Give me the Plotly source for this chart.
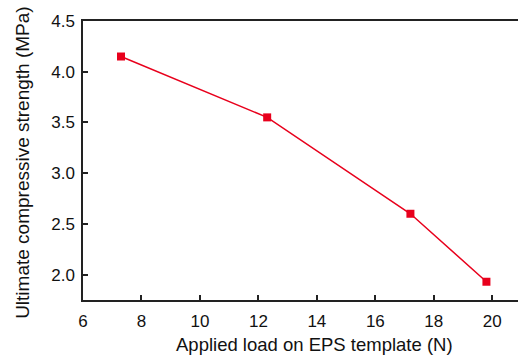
import plotly.graph_objects as go

load_n = [7.3, 12.3, 17.2, 19.8]
strength_mpa = [4.15, 3.55, 2.60, 1.93]

x_ticks = [6, 8, 10, 12, 14, 16, 18, 20]
y_ticks = [2.0, 2.5, 3.0, 3.5, 4.0, 4.5]
y_tick_labels = ["2.0", "2.5", "3.0", "3.5", "4.0", "4.5"]

x_title = "Applied load on EPS template (N)"
y_title = "Ultimate compressive strength (MPa)"

red = "#e8001c"
font_family = "Liberation Sans, Arial, sans-serif"

fig = go.Figure(
    go.Scatter(
        x=load_n,
        y=strength_mpa,
        mode="lines+markers",
        line=dict(color=red, width=1.5),
        marker=dict(symbol="square", size=8, color=red),
        showlegend=False,
    )
)

fig.update_layout(
    width=518,
    height=356,
    margin=dict(l=83, r=0, t=21, b=56),
    paper_bgcolor="white",
    plot_bgcolor="white",
    font=dict(family=font_family, color="#111111"),
    annotations=[
        dict(text=x_title, xref="paper", yref="paper", x=0.533, y=-0.161,
             xanchor="center", yanchor="middle", showarrow=False,
             font=dict(size=18.5, family=font_family, color="#111111")),
        dict(text=y_title, xref="paper", yref="paper", x=-0.138, y=0.495,
             xanchor="center", yanchor="middle", showarrow=False, textangle=-90,
             font=dict(size=19, family=font_family, color="#111111")),
    ],
)

fig.update_xaxes(
    range=[6, 20.88],
    tickvals=x_ticks,
    ticks="inside",
    ticklen=5,
    tickwidth=1.5,
    tickcolor="#222222",
    ticklabelstandoff=5,
    showline=True,
    linecolor="#222222",
    linewidth=1.5,
    mirror=True,
    showgrid=False,
    zeroline=False,
    tickfont=dict(size=17, family=font_family),
)

fig.update_yaxes(
    range=[1.75, 4.5],
    tickvals=y_ticks,
    ticktext=y_tick_labels,
    ticks="inside",
    ticklen=5,
    tickwidth=1.5,
    tickcolor="#222222",
    ticklabelstandoff=3,
    showline=True,
    linecolor="#222222",
    linewidth=1.5,
    showgrid=False,
    zeroline=False,
    tickfont=dict(size=17, family=font_family),
)

fig.write_html("out.html")
